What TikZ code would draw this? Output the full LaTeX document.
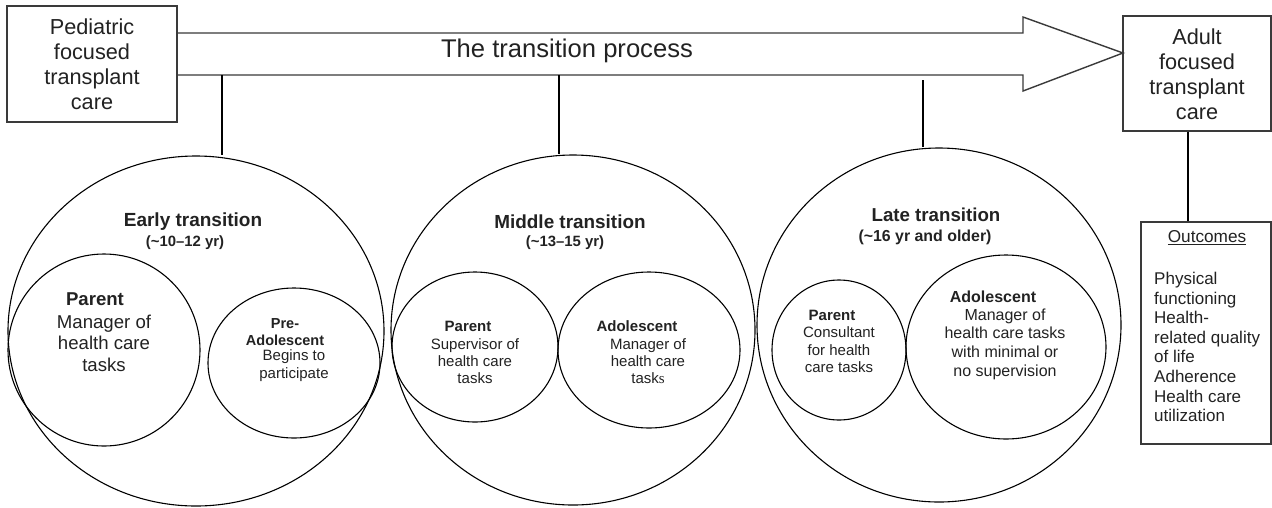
\documentclass[tikz,border=0pt]{standalone}
\usepackage{fontspec}
\setmainfont{Liberation Sans}
\newfontfamily\serifs{Liberation Serif}
\usetikzlibrary{shapes.geometric}
\definecolor{ink}{HTML}{222222}
\definecolor{boxline}{HTML}{3A3A3A}
\begin{document}
\begin{tikzpicture}[x=1pt,y=-1pt,
  ell/.style={draw=black, ellipse, inner sep=0pt, line width=1.1pt},
  boxn/.style={draw=boxline, rectangle, inner sep=0pt, line width=1.4pt},
  conn/.style={draw=black, line width=1.1pt},
  txt/.style={text=ink, inner sep=0pt, align=center}]
\useasboundingbox (0,0) rectangle (1272,507);
\fill[white] (0,0) rectangle (1272,507);

% boxes
\node[boxn, minimum width=170pt, minimum height=116pt] (ped) at (92,64) {};
\node[txt, font=\fontsize{21.7}{25}\selectfont] (pedt) at (92,64) {Pediatric\\focused\\transplant\\care};
\node[boxn, minimum width=148pt, minimum height=115pt] (adult) at (1197,73.5) {};
\node[txt, font=\fontsize{21.7}{25}\selectfont] (adultt) at (1197,74) {Adult\\focused\\transplant\\care};
\node[boxn, minimum width=130pt, minimum height=222pt] (outc) at (1206,333) {};

% arrow
\draw[draw=boxline, line width=1.4pt, line join=miter]
  (177,33) -- (1023,33) -- (1023,17) -- (1123,53) -- (1023,91) -- (1023,75) -- (177,75);
\node[txt, font=\fontsize{25.6}{30}\selectfont] (proc) at (567,51) {The transition process};

% circles
\node[ell, minimum width=376pt, minimum height=350pt] (early) at (196,331) {};
\node[ell, minimum width=192pt, minimum height=192pt] (epar) at (104,350) {};
\node[ell, minimum width=172pt, minimum height=150pt] (epre) at (294,363) {};

\node[ell, minimum width=364pt, minimum height=350pt] (middle) at (573,330) {};
\node[ell, minimum width=166pt, minimum height=150pt] (mpar) at (475,347) {};
\node[ell, minimum width=182pt, minimum height=156pt] (mado) at (649,350) {};

\node[ell, minimum width=364pt, minimum height=354pt] (late) at (939,325) {};
\node[ell, minimum width=134pt, minimum height=140pt] (lpar) at (839,350) {};
\node[ell, minimum width=200pt, minimum height=184pt] (lado) at (1006,347) {};

% connectors
\coordinate (c1) at (222,75);
\coordinate (c2) at (559,75);
\coordinate (c3) at (923,80);
\draw[conn] (c1) -- (c1 |- early.north);
\draw[conn] (c2) -- (c2 |- middle.north);
\draw[conn] (c3) -- (c3 |- late.north);
\draw[conn] ([xshift=-9pt]adult.south) -- ([xshift=-9pt]adult.south |- outc.north);

% early texts
\node[txt, font=\bfseries\fontsize{19}{22}\selectfont] (et) at (193,222) {Early transition};
\node[txt, font=\bfseries\fontsize{14.9}{17}\selectfont] (es) at (185,243) {(\textasciitilde10--12 yr)};
\node[txt, font=\bfseries\fontsize{18.6}{21.5}\selectfont] (eph) at (95,299) {Parent};
\node[txt, font=\fontsize{18.6}{21.5}\selectfont] (epb) at (104,343) {Manager of\\health care\\tasks};
\node[txt, font=\bfseries\fontsize{14.5}{16.5}\selectfont] (eah) at (285,332) {Pre-\\Adolescent};
\node[txt, font=\fontsize{15}{18}\selectfont] (eab) at (294,366) {Begins to\\participate};

% middle texts
\node[txt, font=\bfseries\fontsize{18.9}{22}\selectfont] (mt) at (570,222) {Middle transition};
\node[txt, font=\bfseries\fontsize{14.9}{17}\selectfont] (ms) at (565,243) {(\textasciitilde13--15 yr)};
\node[txt, font=\bfseries\fontsize{15}{17}\selectfont] (mph) at (468,326) {Parent};
\node[txt, font=\fontsize{15}{17}\selectfont] (mpb) at (475,361) {Supervisor of\\health care\\tasks};
\node[txt, font=\bfseries\fontsize{15}{17}\selectfont] (mah) at (637,326) {Adolescent};
\node[txt, font=\fontsize{15}{17}\selectfont] (mab) at (648,361) {Manager of\\health care\\task{\serifs s}};

% late texts
\node[txt, font=\bfseries\fontsize{18.7}{22}\selectfont] (lt) at (936,215) {Late transition};
\node[txt, font=\bfseries\fontsize{15.9}{18}\selectfont] (ls) at (925,237) {(\textasciitilde16 yr and older)};
\node[txt, font=\bfseries\fontsize{15}{17.5}\selectfont] (lph) at (832,315) {Parent};
\node[txt, font=\fontsize{15}{17.5}\selectfont] (lpb) at (839,350) {Consultant\\for health\\care tasks};
\node[txt, font=\bfseries\fontsize{16}{18.7}\selectfont] (lah) at (993,297) {Adolescent};
\node[txt, font=\fontsize{16}{18.7}\selectfont] (lab) at (1005,344) {Manager of\\health care tasks\\with minimal or\\no supervision};

% outcomes
\node[txt, font=\fontsize{17.2}{19.6}\selectfont] (oh) at (1207,238) {\underline{Outcomes}};
\node[txt, align=left, anchor=west, font=\fontsize{17}{19.6}\selectfont] (ol) at (1154,347)
  {Physical\\functioning\\Health-\\related quality\\of life\\Adherence\\Health care\\utilization};
\end{tikzpicture}
\end{document}
